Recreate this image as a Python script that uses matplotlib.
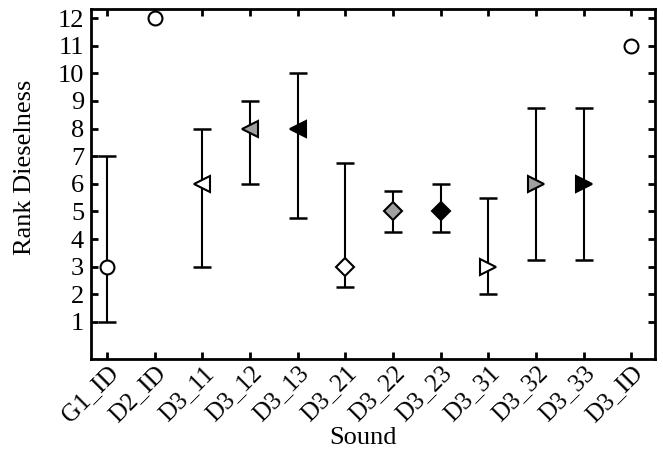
import matplotlib
matplotlib.use("Agg")
import matplotlib.pyplot as plt
import numpy as np

plt.rcParams['font.family'] = ['Liberation Serif', 'DejaVu Serif']

# Data
sounds = ['G1_ID', 'D2_ID', 'D3_11', 'D3_12', 'D3_13', 'D3_21',
          'D3_22', 'D3_23', 'D3_31', 'D3_32', 'D3_33', 'D3_ID']
median = [3, 12, 6, 8, 8, 3, 5, 5, 3, 6, 6, 11]
lower = [1, None, 3, 6, 4.75, 2.25, 4.25, 4.25, 2, 3.25, 3.25, None]
upper = [7, None, 8, 9, 10, 6.75, 5.75, 6, 5.5, 8.75, 8.75, None]
markers = ['o', 'o', '<', '<', '<', 'D', 'D', 'D', '>', '>', '>', 'o']
fills = ['white', 'white', 'white', '#a0a0a0', 'black', 'white',
         '#a0a0a0', 'black', 'white', '#a0a0a0', 'black', 'white']

fig = plt.figure(figsize=(6.63, 4.62), dpi=100)
ax = fig.add_axes([91 / 663, 1 - 359 / 462, (655 - 91) / 663, (359 - 9) / 462])

x = np.arange(1, len(sounds) + 1)
for xi, m, lo, hi, mk, fc in zip(x, median, lower, upper, markers, fills):
    if lo is not None:
        ax.errorbar(xi, m, yerr=[[m - lo], [hi - m]], fmt='none', ecolor='black',
                    elinewidth=1.5, capsize=6.5, capthick=1.8, zorder=1)
    size = {'o': 10, '<': 12, '>': 12, 'D': 9}[mk]
    ax.plot(xi, m, marker=mk, markersize=size, markerfacecolor=fc,
            markeredgecolor='black', markeredgewidth=1.5, linestyle='none', zorder=3)

ax.set_xlim(0.66, 12.5)
ax.set_ylim(-0.34, 12.33)
ax.set_xticks(x)
ax.set_xticklabels(sounds, rotation=45, ha='right', rotation_mode='anchor', fontsize=18)
ax.set_yticks(range(1, 13))
ax.tick_params(axis='y', labelsize=19, pad=5)
ax.tick_params(axis='x', pad=2)
ax.tick_params(direction='in', top=True, right=True, length=5, width=2)
for s in ax.spines.values():
    s.set_linewidth(2)

ax.set_xlabel('Sound', fontsize=19)
ax.xaxis.set_label_coords(0.482, -0.195)
ax.set_ylabel('Rank Dieselness', fontsize=19)
ax.yaxis.set_label_coords(-0.097, 0.547)

fig.savefig('out.png', dpi=100)
